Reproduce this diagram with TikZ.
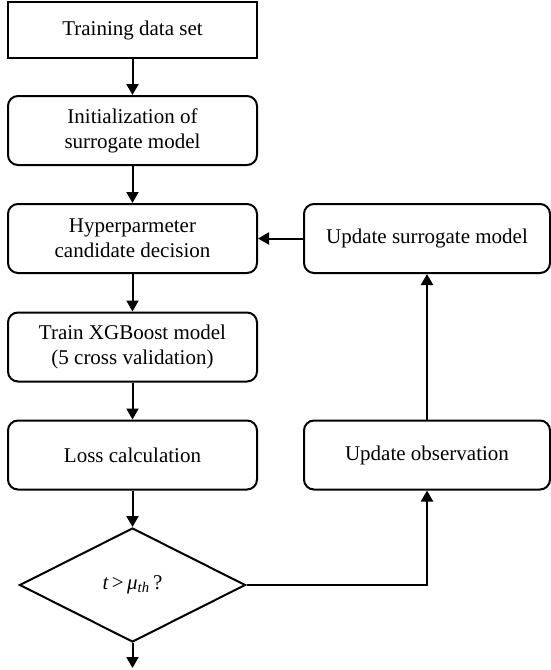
\documentclass[tikz,border=0pt]{standalone}
\usepackage{fontspec}
\setmainfont{Liberation Serif}
\usetikzlibrary{shapes.geometric,arrows.meta}
\begin{document}
\begin{tikzpicture}[x=1pt,y=-1pt,
  every node/.style={font=\fontsize{21}{25}\selectfont, align=center, inner sep=0pt},
  box/.style={draw, line width=2pt, rounded corners=10pt, minimum width=249pt, minimum height=69pt},
  sharpbox/.style={draw, line width=2pt, minimum width=249pt, minimum height=56pt},
  decision/.style={draw, line width=2pt, diamond, minimum width=226pt, minimum height=114pt},
  flow/.style={line width=2pt, -{Triangle[length=11pt,width=12pt]}}]
\useasboundingbox (0,0) rectangle (551,670);
\node[sharpbox] (tds) at (132.5,30) {Training data set};
\node[box] (init) at (132.5,130.5) {Initialization of\\surrogate model};
\node[box] (hyp) at (132.5,238.5) {Hyperparmeter\\candidate decision};
\node[box] (train) at (132.5,347) {Train XGBoost model\\(5 cross validation)};
\node[box] (loss) at (132.5,455) {Loss calculation};
\node[box, minimum width=246pt] (uobs) at (427,455) {Update observation};
\node[box, minimum width=246pt] (usur) at (427,238.5) {Update surrogate model};
\node[decision] (dec) at (132.5,585) {\itshape t\,\upshape >\,\itshape μ\textsubscript{th}\upshape\,?};
\coordinate (out) at (132.5,668);
\draw[flow] (tds) -- (init);
\draw[flow] (init) -- (hyp);
\draw[flow] (hyp) -- (train);
\draw[flow] (train) -- (loss);
\draw[flow] (loss) -- (dec);
\draw[flow] (dec.south) -- (out);
\draw[flow] (dec.east) -| (uobs.south);
\draw[flow] (uobs) -- (usur);
\draw[flow] (usur) -- (hyp);
\end{tikzpicture}
\end{document}
